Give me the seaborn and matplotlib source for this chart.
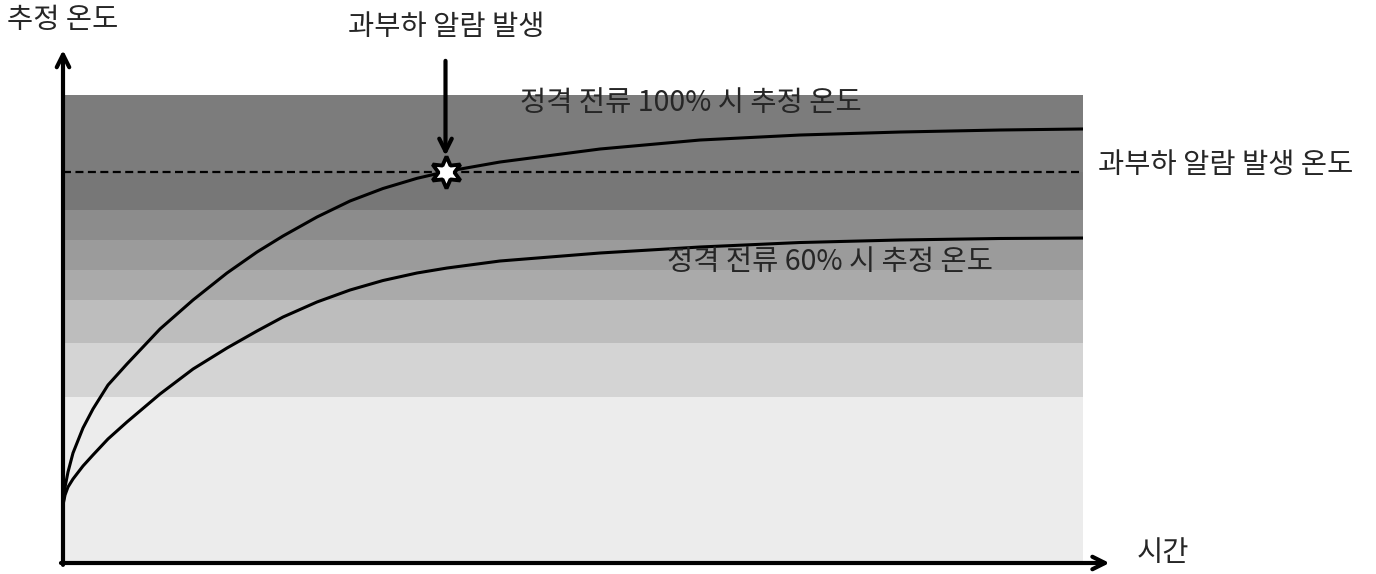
import numpy as np
import pandas as pd
import seaborn as sns
import matplotlib.pyplot as plt

# time axis (0-100) and estimated temperature (0-100)
time = [0, 0.2, 0.49, 0.98, 1.96, 2.94, 4.41, 6.27, 9.51, 12.75, 16.08, 19.02,
        21.57, 24.9, 28.14, 31.37, 34.71, 37.65, 42.84, 52.65, 62.45, 72.25,
        82.06, 91.86, 100]
temp_100 = [12.39, 16.24, 19.44, 23.50, 28.85, 32.91, 38.03, 42.52, 50.0,
            56.20, 61.97, 66.45, 69.87, 73.93, 77.35, 80.02, 82.20, 83.68,
            85.68, 88.46, 90.38, 91.45, 92.09, 92.52, 92.74]
temp_60 = [12.39, 14.53, 16.24, 17.95, 20.73, 23.08, 26.50, 30.13, 36.11,
           41.45, 45.94, 49.57, 52.56, 55.77, 58.33, 60.36, 61.97, 63.03,
           64.53, 66.24, 67.52, 68.48, 69.02, 69.34, 69.44]

alarm_temp = 83.55
alarm_time = 37.5

# background shading bands (bottom edge, top edge, gray)
band_lo = [0, 35.5, 47.0, 56.2, 62.6, 69.0, 75.4, 83.5]
band_hi = [35.5, 47.0, 56.2, 62.6, 69.0, 75.4, 83.5, 100]
band_col = ['#ececec', '#d4d4d4', '#bdbdbd', '#aaaaaa', '#9b9b9b', '#8c8c8c',
            '#777777', '#7c7c7c']

sns.set_style('white')
plt.rcParams['font.family'] = ['Noto Sans CJK KR', 'DejaVu Sans']

df = pd.DataFrame({'time': time * 2,
                   'temp': temp_100 + temp_60,
                   'curve': ['100'] * len(time) + ['60'] * len(time)})

fig = plt.figure(figsize=(13.76, 5.74), dpi=100)
ax = fig.add_axes([63 / 1376, 11 / 574, 1020 / 1376, 468 / 574])

for lo, hi, c in zip(band_lo, band_hi, band_col):
    ax.axhspan(lo, hi, color=c, lw=0, zorder=0)

sns.lineplot(data=df, x='time', y='temp', hue='curve',
             palette={'100': 'black', '60': 'black'}, lw=2.2,
             legend=False, ax=ax, zorder=3, solid_joinstyle='round')
ax.axhline(alarm_temp, color='black', lw=1.6, ls=(0, (3.6, 2)), zorder=2)
ax.plot([alarm_time], [alarm_temp], marker=(6, 1, 0), ms=23, mfc='white',
        mec='black', mew=2.8, zorder=5)

ax.set_xlim(0, 100)
ax.set_ylim(0, 100)
ax.set_xticks([])
ax.set_yticks([])
ax.set_xlabel('')
ax.set_ylabel('')
for s in ax.spines.values():
    s.set_visible(False)

arrow = dict(arrowstyle='->, head_width=0.45, head_length=0.9', lw=3,
             color='black', shrinkA=0, shrinkB=0)
ax.annotate('', xy=(0, 109.6), xytext=(0, -0.4), arrowprops=arrow,
            annotation_clip=False)
ax.annotate('', xy=(102.6, 0), xytext=(-0.2, 0), arrowprops=arrow,
            annotation_clip=False)
ax.annotate('', xy=(alarm_time, 87.0), xytext=(alarm_time, 107.3),
            arrowprops=arrow, annotation_clip=False)

fs = 20.5
ax.text(-5.5, 116, '추정 온도', fontsize=fs, ha='left', va='center', clip_on=False)
ax.text(37.6, 114.5, '과부하 알람 발생', fontsize=fs, ha='center', va='center', clip_on=False)
ax.text(44.8, 98.3, '정격 전류 100% 시 추정 온도', fontsize=fs, ha='left', va='center')
ax.text(101.5, 85.0, '과부하 알람 발생 온도', fontsize=fs, ha='left', va='center', clip_on=False)
ax.text(59.2, 64.3, '정격 전류 60% 시 추정 온도', fontsize=fs, ha='left', va='center')
ax.text(105.3, 2.1, '시간', fontsize=fs, ha='left', va='center', clip_on=False)

fig.savefig('out.png', dpi=100)
